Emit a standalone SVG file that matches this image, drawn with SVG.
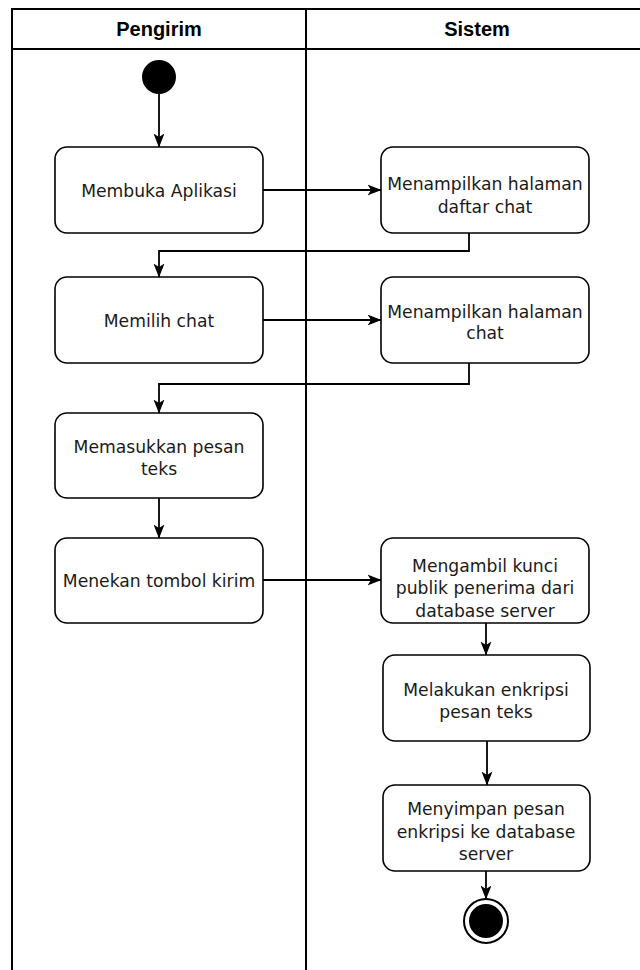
<svg xmlns="http://www.w3.org/2000/svg" width="640" height="970" viewBox="0 0 640 970">
<style>
.lane{fill:none;stroke:#000;stroke-width:2}
.box{fill:#fff;stroke:#000;stroke-width:1.6}
.t{font-family:"DejaVu Sans",Verdana,sans-serif;font-size:17.2px;fill:#1a1a1a;text-anchor:middle}
.h{font-family:"Liberation Sans",Arial,sans-serif;font-weight:bold;font-size:20px;fill:#000;text-anchor:middle}
.c{fill:none;stroke:#000;stroke-width:1.8}
</style>
<defs>
<marker id="arr" viewBox="0 0 14 14" refX="13.5" refY="7" markerWidth="14" markerHeight="14" orient="auto" markerUnits="userSpaceOnUse">
<path d="M0,1.5 L14,7 L0,12.5 L3.5,7 z" fill="#000"/>
</marker>
</defs>
<g id="swimlanes">
<line class="lane" x1="11" y1="9" x2="640" y2="9"/>
<line class="lane" x1="11" y1="49" x2="640" y2="49"/>
<line class="lane" x1="12" y1="8" x2="12" y2="970"/>
<line class="lane" x1="306" y1="9" x2="306" y2="970"/>
<text class="h" x="159" y="36">Pengirim</text>
<text class="h" x="477" y="36">Sistem</text>
</g>
<g id="connectors">
<line class="c" x1="159" y1="94" x2="159" y2="147" marker-end="url(#arr)"/>
<line class="c" x1="263" y1="190" x2="381" y2="190" marker-end="url(#arr)"/>
<polyline class="c" points="469,233 469,251 159,251 159,277" marker-end="url(#arr)"/>
<line class="c" x1="263" y1="320" x2="381" y2="320" marker-end="url(#arr)"/>
<polyline class="c" points="469,357 469,384 159,384 159,413" marker-end="url(#arr)"/>
<line class="c" x1="159" y1="498" x2="159" y2="538" marker-end="url(#arr)"/>
<line class="c" x1="263" y1="580" x2="381" y2="580" marker-end="url(#arr)"/>
<line class="c" x1="486" y1="623" x2="486" y2="655" marker-end="url(#arr)"/>
<line class="c" x1="487" y1="741" x2="487" y2="785" marker-end="url(#arr)"/>
<line class="c" x1="486" y1="871" x2="486" y2="899" marker-end="url(#arr)"/>
</g>
<g id="start"><circle cx="159" cy="77" r="17" fill="#000"/></g>
<g id="n1"><rect class="box" x="55" y="147" width="208" height="86" rx="12"/><text class="t" x="159" y="197">Membuka Aplikasi</text></g>
<g id="n2"><rect class="box" x="381" y="147" width="208" height="86" rx="12"/><text class="t" x="485" y="190">Menampilkan halaman</text><text class="t" x="485" y="213">daftar chat</text></g>
<g id="n3"><rect class="box" x="55" y="277" width="208" height="86" rx="12"/><text class="t" x="159" y="327">Memilih chat</text></g>
<g id="n4"><rect class="box" x="381" y="277" width="208" height="86" rx="12"/><text class="t" x="485" y="318">Menampilkan halaman</text><text class="t" x="485" y="339">chat</text></g>
<g id="n5"><rect class="box" x="55" y="413" width="208" height="85" rx="12"/><text class="t" x="159" y="453">Memasukkan pesan</text><text class="t" x="159" y="475">teks</text></g>
<g id="n6"><rect class="box" x="55" y="538" width="208" height="85" rx="12"/><text class="t" x="159" y="587">Menekan tombol kirim</text></g>
<g id="n7"><rect class="box" x="381" y="538" width="208" height="85" rx="12"/><text class="t" x="485" y="572">Mengambil kunci</text><text class="t" x="485" y="594">publik penerima dari</text><text class="t" x="485" y="617">database server</text></g>
<g id="n8"><rect class="box" x="383" y="655" width="207" height="86" rx="12"/><text class="t" x="486" y="696">Melakukan enkripsi</text><text class="t" x="486" y="718">pesan teks</text></g>
<g id="n9"><rect class="box" x="383" y="785" width="207" height="86" rx="12"/><text class="t" x="486" y="815">Menyimpan pesan</text><text class="t" x="486" y="838">enkripsi ke database</text><text class="t" x="486" y="860">server</text></g>
<g id="end"><circle cx="486" cy="921" r="22" fill="#fff" stroke="#000" stroke-width="2"/><circle cx="486" cy="921" r="17" fill="#000"/></g>
</svg>
